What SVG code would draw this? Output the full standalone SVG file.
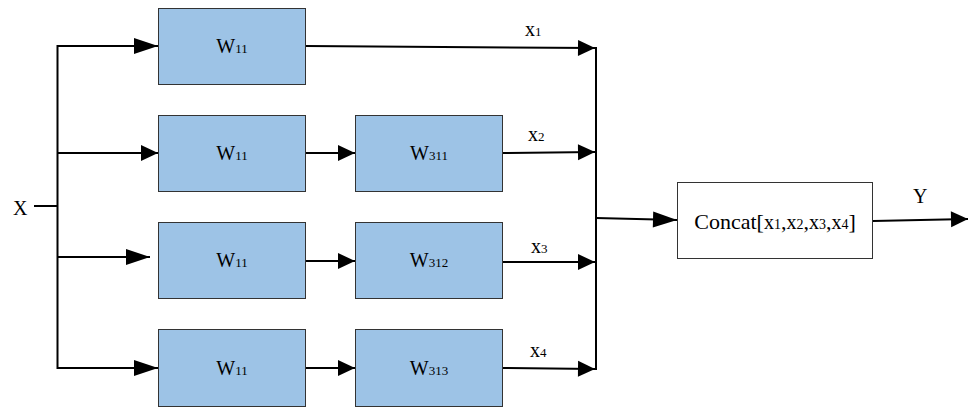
<svg xmlns="http://www.w3.org/2000/svg" width="969" height="409" viewBox="0 0 969 409">
<style>
.box{fill:#9dc3e6;stroke:#333;stroke-width:1}
.cbox{fill:#fff;stroke:#333;stroke-width:1}
.ln{fill:none;stroke:#000;stroke-width:2}
.t{font-size:20px;fill:#000}
.s{font-size:13px}
</style>
<defs>
<marker id="big" markerUnits="userSpaceOnUse" markerWidth="24" markerHeight="16" refX="24" refY="8" orient="auto" overflow="visible">
<path d="M0,0 L24,8 L0,16 Z" fill="#000"/>
</marker>
<marker id="sm" markerUnits="userSpaceOnUse" markerWidth="17" markerHeight="16" refX="17" refY="8" orient="auto" overflow="visible">
<path d="M0,0 L17,8 L0,16 Z" fill="#000"/>
</marker>
</defs>
<g font-family="'Liberation Serif', 'DejaVu Serif', serif">
<g id="connectors">
<line class="ln" x1="34" y1="206" x2="57.5" y2="206"/>
<line class="ln" x1="57.5" y1="45" x2="57.5" y2="369"/>
<polyline class="ln" points="57.5,46 158,46" marker-end="url(#big)"/>
<polyline class="ln" points="57.5,153 158,153" marker-end="url(#sm)"/>
<polyline class="ln" points="57.5,257 150,257" marker-end="url(#big)"/>
<polyline class="ln" points="57.5,368 158,368" marker-end="url(#big)"/>
<line class="ln" x1="306" y1="153" x2="355" y2="153" marker-end="url(#sm)"/>
<line class="ln" x1="306" y1="261" x2="355" y2="261" marker-end="url(#sm)"/>
<line class="ln" x1="306" y1="368" x2="355" y2="368" marker-end="url(#sm)"/>
<line class="ln" x1="306" y1="46" x2="595" y2="48" marker-end="url(#sm)"/>
<line class="ln" x1="503" y1="153" x2="595" y2="152" marker-end="url(#sm)"/>
<line class="ln" x1="503" y1="262" x2="595" y2="262" marker-end="url(#sm)"/>
<line class="ln" x1="503" y1="368" x2="595" y2="369" marker-end="url(#sm)"/>
<line class="ln" x1="596" y1="47" x2="596" y2="370"/>
<line class="ln" x1="596" y1="218" x2="677" y2="220" marker-end="url(#big)"/>
<line class="ln" x1="873" y1="221" x2="968" y2="219" marker-end="url(#sm)"/>
<text class="t" x="525" y="36">x<tspan class="s">1</tspan></text>
<text class="t" x="528" y="141">x<tspan class="s">2</tspan></text>
<text class="t" x="531" y="253">x<tspan class="s">3</tspan></text>
<text class="t" x="530" y="357">x<tspan class="s">4</tspan></text>
</g>
<g id="X"><text class="t" x="13" y="215">X</text></g>
<g id="Y"><text class="t" x="913" y="203">Y</text></g>
<g id="w11a"><rect class="box" x="158.5" y="8.5" width="147" height="76"/><text class="t" x="232" y="53" text-anchor="middle">W<tspan class="s">11</tspan></text></g>
<g id="w11b"><rect class="box" x="158.5" y="115.5" width="147" height="76"/><text class="t" x="232" y="160" text-anchor="middle">W<tspan class="s">11</tspan></text></g>
<g id="w11c"><rect class="box" x="158.5" y="222.5" width="147" height="76"/><text class="t" x="232" y="267" text-anchor="middle">W<tspan class="s">11</tspan></text></g>
<g id="w11d"><rect class="box" x="158.5" y="329.5" width="147" height="77"/><text class="t" x="232" y="375" text-anchor="middle">W<tspan class="s">11</tspan></text></g>
<g id="w311"><rect class="box" x="355.5" y="115.5" width="147" height="76"/><text class="t" x="429" y="160" text-anchor="middle">W<tspan class="s">311</tspan></text></g>
<g id="w312"><rect class="box" x="355.5" y="222.5" width="147" height="76"/><text class="t" x="429" y="267" text-anchor="middle">W<tspan class="s">312</tspan></text></g>
<g id="w313"><rect class="box" x="355.5" y="329.5" width="147" height="77"/><text class="t" x="429" y="375" text-anchor="middle">W<tspan class="s">313</tspan></text></g>
<g id="concat"><rect class="cbox" x="677.5" y="182.5" width="195" height="76"/><text class="t" x="775" y="229" text-anchor="middle" style="font-size:22px">Concat[<tspan style="font-size:20px">x</tspan><tspan style="font-size:14px">1</tspan>,<tspan style="font-size:20px">x</tspan><tspan style="font-size:14px">2</tspan>,<tspan style="font-size:20px">x</tspan><tspan style="font-size:14px">3</tspan>,<tspan style="font-size:20px">x</tspan><tspan style="font-size:14px">4</tspan>]</text></g>
</g>
</svg>
